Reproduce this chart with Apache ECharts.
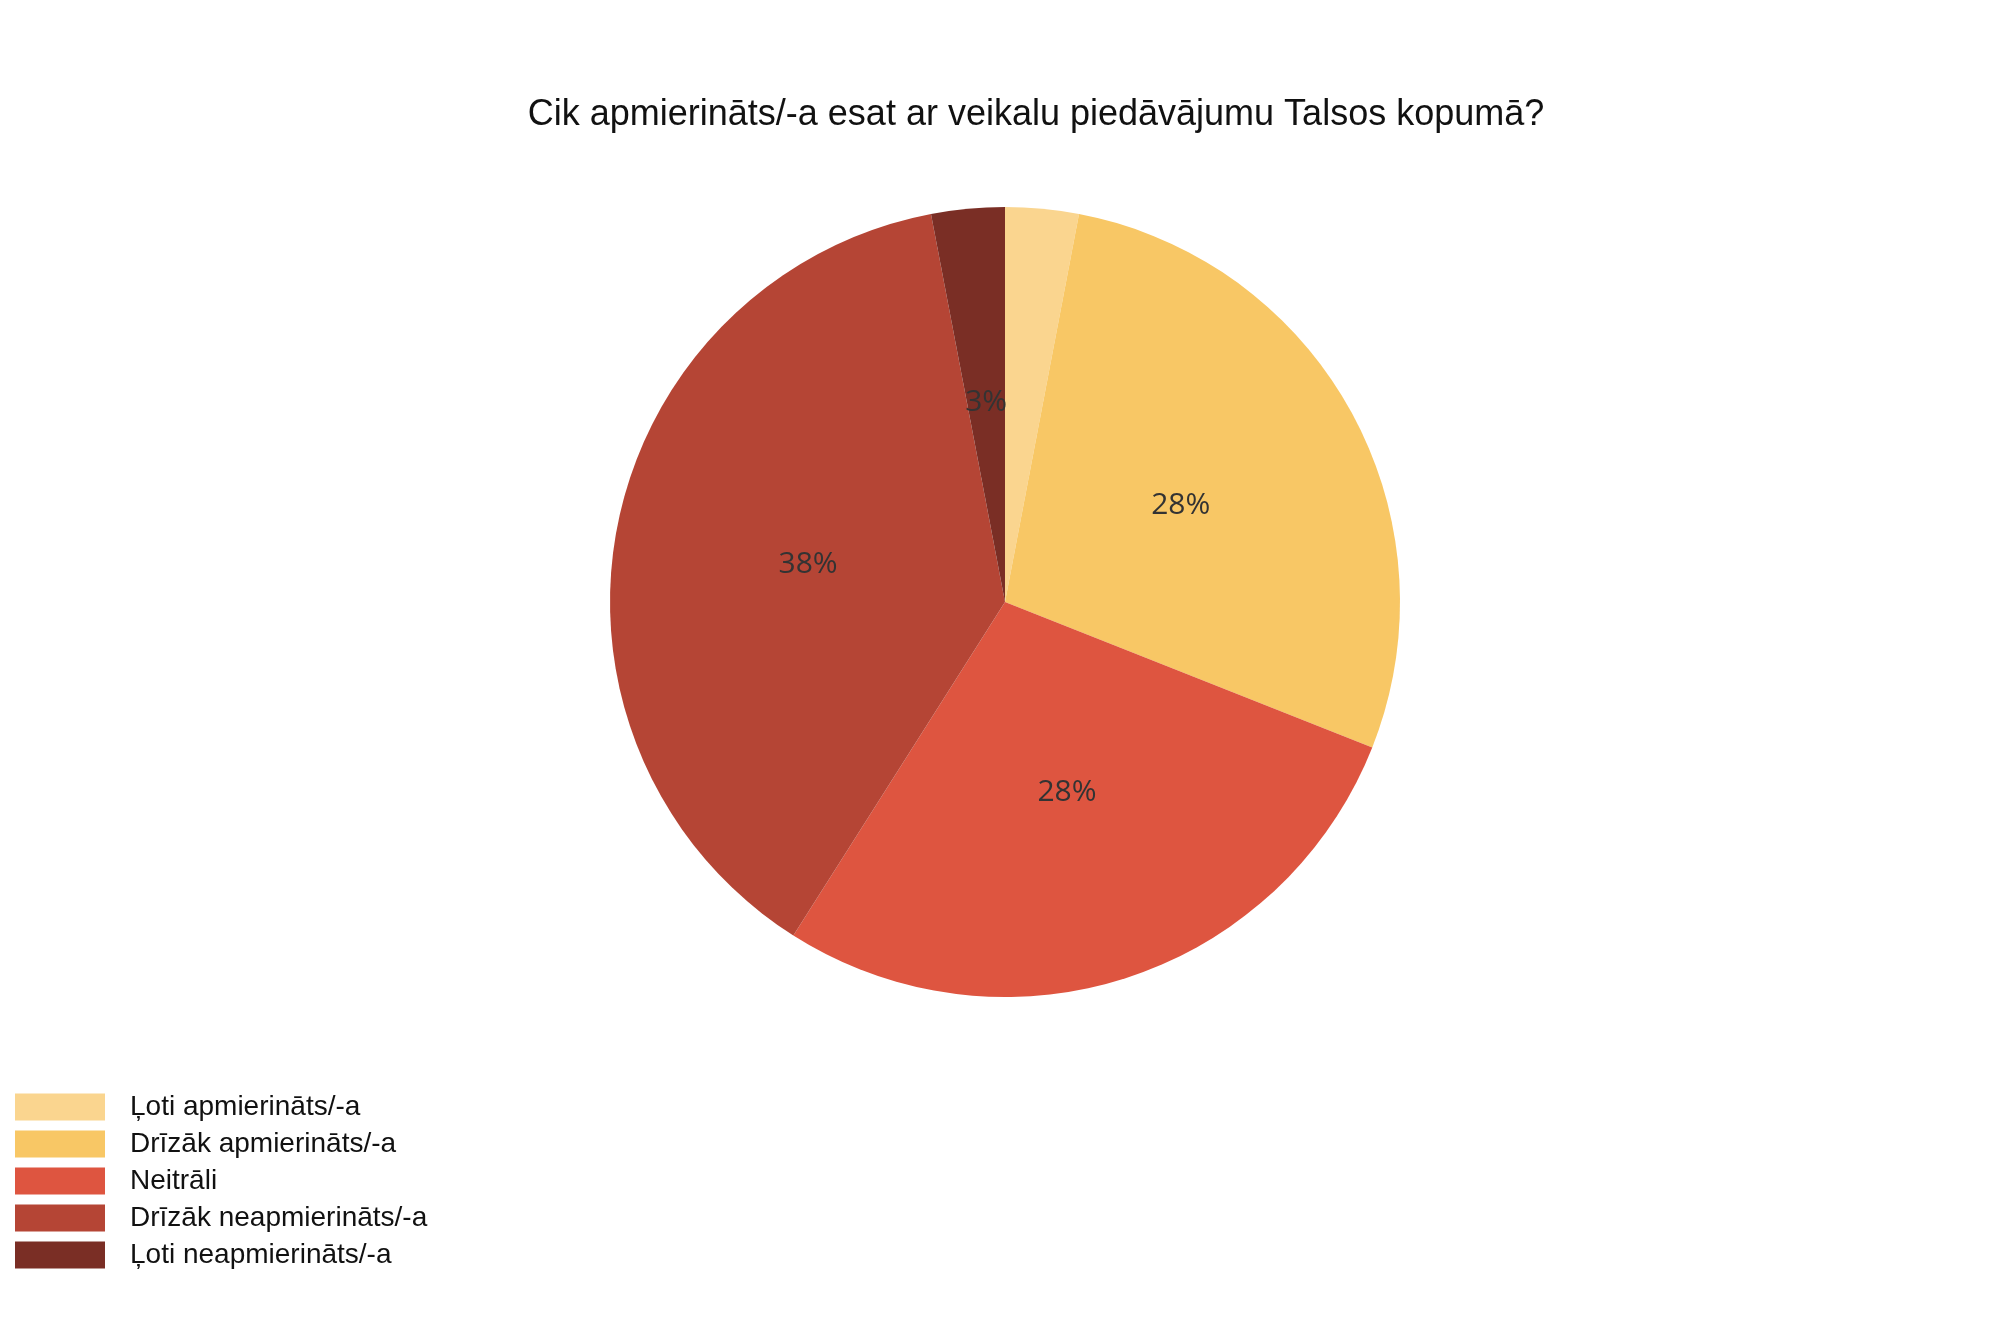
<!DOCTYPE html>
<html>
<head>
<meta charset="utf-8">
<script src="https://cdn.jsdelivr.net/npm/echarts@6/dist/echarts.min.js"></script>
<style>html,body{margin:0;padding:0;background:#fff}#main{width:2000px;height:1333px}</style>
</head>
<body>
<div id="main"></div>
<script>
var categories = ['Ļoti apmierināts/-a', 'Drīzāk apmierināts/-a', 'Neitrāli', 'Drīzāk neapmierināts/-a', 'Ļoti neapmierināts/-a'];
var values = [3, 28, 28, 38, 3];
var colors = ['#FAD58F', '#F8C765', '#DE5540', '#B54535', '#7A2E25'];

var myChart = echarts.init(document.getElementById('main'));
var option = {
  animation: false,
  color: colors,
  title: {
    text: 'Cik apmierināts/-a esat ar veikalu piedāvājumu Talsos kopumā?',
    left: 1031,
    textAlign: 'center',
    top: 92,
    textStyle: { fontFamily: 'Liberation Sans', fontWeight: 'normal', fontSize: 36, color: '#111' }
  },
  legend: {
    orient: 'vertical',
    left: 10,
    top: 1088,
    itemWidth: 90,
    itemHeight: 27,
    itemGap: 9,
    icon: 'rect',
    textStyle: { fontFamily: 'Liberation Sans', fontSize: 28, color: '#111', padding: [0, 0, 0, 20] }
  },
  series: [{
    type: 'pie',
    center: [1005, 602],
    radius: [0, 395],
    startAngle: 90,
    clockwise: true,
    percentPrecision: 0,
    label: {
      position: 'inside',
      formatter: '{d}%',
      fontFamily: 'Open Sans',
      fontSize: 30,
      color: '#333'
    },
    labelLine: { show: false },
    data: categories.map(function (c, i) { return { name: c, value: values[i] }; })
  }]
};
myChart.setOption(option);
window.addEventListener('resize', function () { myChart.resize(); });
</script>
</body>
</html>
